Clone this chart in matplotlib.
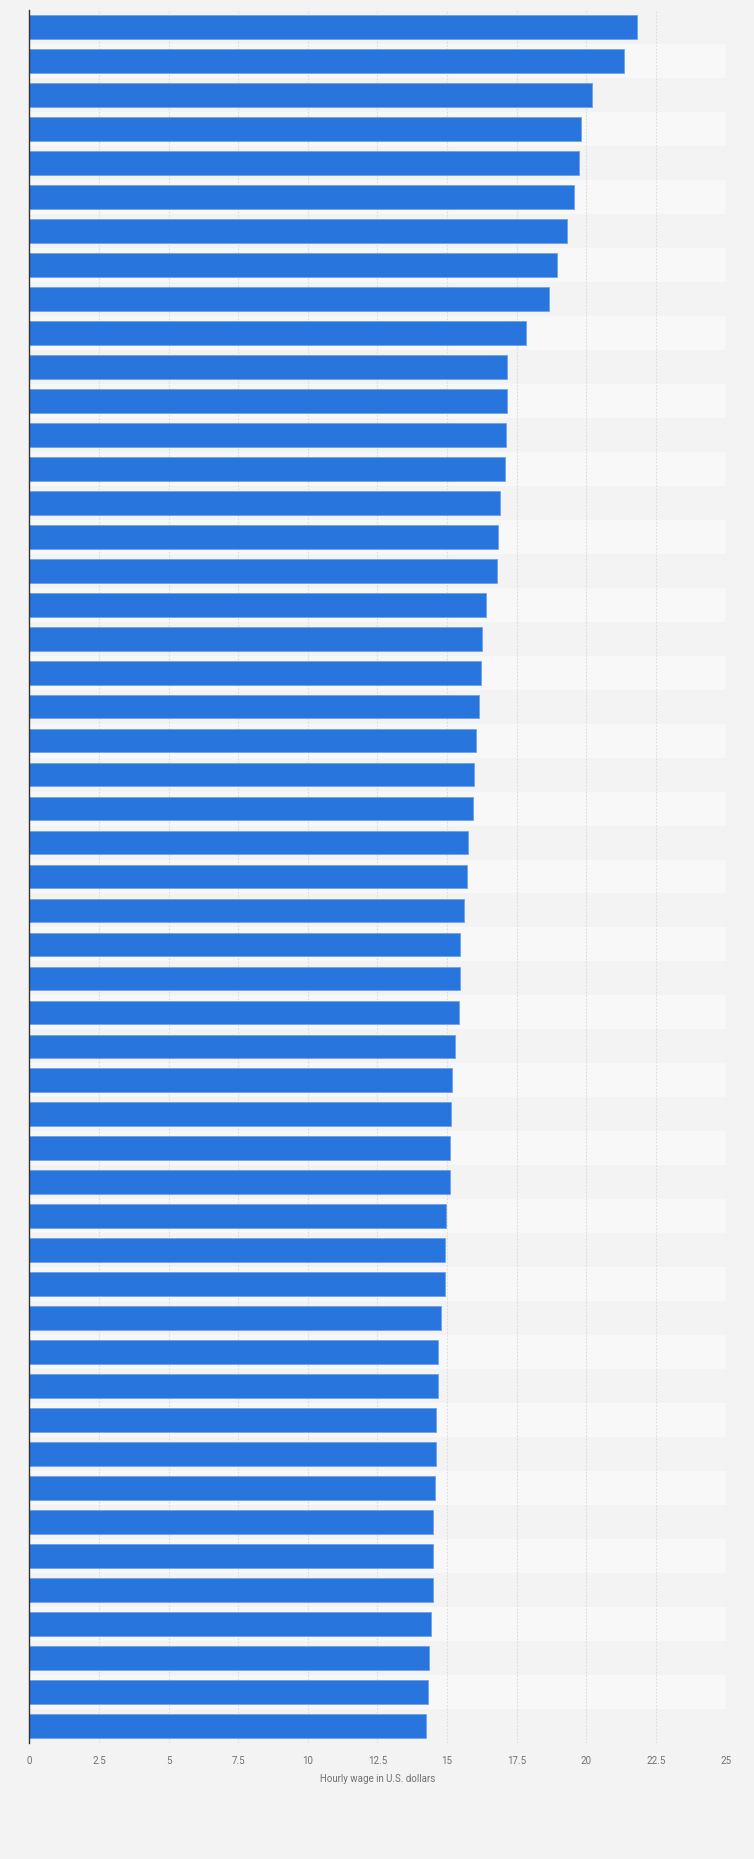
import numpy as np
import matplotlib.pyplot as plt

# hourly wage per bar, top to bottom (no category labels shown in the chart)
wages = [21.82, 21.37, 20.22, 19.82, 19.72, 19.54, 19.32, 18.96, 18.65, 17.82,
         17.16, 17.14, 17.12, 17.08, 16.90, 16.83, 16.80, 16.40, 16.26, 16.22,
         16.15, 16.04, 15.97, 15.93, 15.75, 15.72, 15.61, 15.46, 15.46, 15.43,
         15.28, 15.18, 15.14, 15.10, 15.10, 14.96, 14.92, 14.92, 14.78, 14.67,
         14.67, 14.60, 14.60, 14.55, 14.49, 14.49, 14.49, 14.42, 14.35, 14.31,
         14.24]
x_ticks = [0, 2.5, 5, 7.5, 10, 12.5, 15, 17.5, 20, 22.5, 25]
x_tick_labels = ['0', '2.5', '5', '7.5', '10', '12.5', '15', '17.5', '20', '22.5', '25']
x_label = 'Hourly wage in U.S. dollars'

plt.rcParams['font.family'] = ['Roboto', 'DejaVu Sans']

fig = plt.figure(figsize=(7.54, 18.59), dpi=100)
fig.patch.set_facecolor('#f3f3f3')
ax = fig.add_axes([29.3 / 754, 116 / 1859, 696.3 / 754, 1733 / 1859])
ax.set_facecolor('#f3f3f3')

n = len(wages)
y = np.arange(n)

# alternating row stripes
for i in range(n):
    ax.axhspan(i - 0.5, i + 0.5, color='#f3f3f3' if i % 2 == 0 else '#f8f8f8',
               lw=0, zorder=0)

ax.barh(y, wages, height=0.7, color='#2876dd', edgecolor='#6ea2ea',
        linewidth=0.6, zorder=3)

ax.set_xlim(0, 25)
ax.set_ylim(n - 0.5, -0.5)
ax.set_xticks(x_ticks)
ax.set_xticklabels(x_tick_labels)
ax.set_yticks([])
ax.grid(axis='x', color='#dcdcdc', linestyle=(0, (1.5, 1.5)), linewidth=0.8, zorder=1)
ax.set_axisbelow(True)

for s in ['top', 'right', 'bottom']:
    ax.spines[s].set_visible(False)
ax.spines['left'].set_color('#333333')
ax.spines['left'].set_linewidth(1.0)
ax.spines['left'].set_zorder(4)

ax.tick_params(axis='x', length=0, pad=9, labelsize=7, labelcolor='#707070')
ax.set_xlabel(x_label, fontsize=7, color='#707070', labelpad=6)

fig.savefig('out.png', dpi=100, facecolor=fig.get_facecolor())
